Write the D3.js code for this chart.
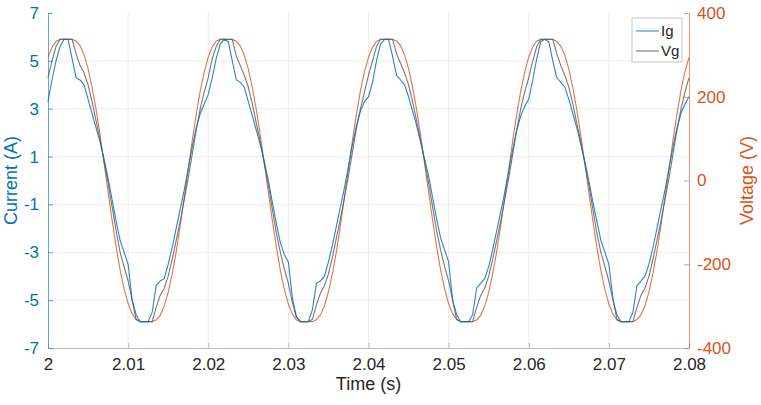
<!DOCTYPE html>
<html><head><meta charset="utf-8">
<script src="https://cdn.jsdelivr.net/npm/d3@7"></script>
<style>body{margin:0;background:#fff}svg{display:block}text{font-family:"Liberation Sans",Arial,sans-serif}</style>
</head><body><svg id="c" width="761" height="405"></svg>
<script>
// sample times: t = tStart + i*tStep
const tStart = 2.0, tStep = 0.0005;
const xTicks = [2, 2.01, 2.02, 2.03, 2.04, 2.05, 2.06, 2.07, 2.08];
const xTickLabels = ["2","2.01","2.02","2.03","2.04","2.05","2.06","2.07","2.08"];
const currentTicks = [-7,-5,-3,-1,1,3,5,7];
const voltageTicks = [-400,-200,0,200,400];
const seriesNames = ["Ig","Vg"];

// Ig (A)
const ig = [
 3.3,4.2,5.0,5.6,5.9,5.9,5.1,4.3,4.2,4.0, 3.4,2.8,2.2,1.6,0.9,0.1,-0.8,-1.7,-2.5,-3.0,
 -3.5,-5.0,-5.8,-5.9,-5.9,-5.9,-5.5,-4.4,-4.2,-4.1, -3.5,-2.8,-2.0,-1.2,-0.4,0.5,1.4,2.2,2.8,3.2,
 3.6,4.3,5.1,5.7,5.9,5.8,5.0,4.2,4.1,3.9, 3.3,2.7,2.1,1.5,0.8,0.0,-0.9,-1.8,-2.6,-3.1,
 -3.4,-4.9,-5.7,-5.9,-5.9,-5.9,-5.4,-4.3,-4.2,-4.0, -3.4,-2.7,-1.9,-1.1,-0.3,0.6,1.5,2.3,2.9,3.3,
 3.5,4.1,5.0,5.7,5.9,5.9,5.2,4.4,4.2,4.0, 3.5,2.9,2.3,1.6,0.9,0.2,-0.7,-1.6,-2.4,-2.9,
 -3.4,-5.0,-5.8,-5.9,-5.9,-5.9,-5.6,-4.5,-4.3,-4.1, -3.6,-2.9,-2.1,-1.3,-0.5,0.4,1.3,2.1,2.7,3.1,
 3.4,4.2,5.1,5.8,5.9,5.8,5.0,4.3,4.1,3.9, 3.4,2.8,2.2,1.5,0.8,0.0,-0.9,-1.7,-2.5,-3.0,
 -3.5,-4.9,-5.8,-5.9,-5.9,-5.9,-5.5,-4.4,-4.2,-4.0, -3.5,-2.8,-2.0,-1.2,-0.4,0.5,1.4,2.2,2.8,3.2,
 3.5
];
// Vg trace (A scale, dark gray)
const vgTrace = [
 4.3,5.0,5.6,5.9,5.9,5.9,5.9,5.3,4.8,4.5, 4.0,3.3,2.5,1.7,0.8,-0.1,-1.1,-2.1,-3.0,-3.6,
 -4.2,-5.0,-5.6,-5.9,-5.9,-5.9,-5.9,-5.3,-4.8,-4.5, -4.0,-3.3,-2.5,-1.7,-0.8,0.1,1.1,2.1,3.0,3.7,
 4.3,5.1,5.6,5.9,5.9,5.9,5.9,5.2,4.8,4.4, 3.9,3.2,2.4,1.6,0.7,-0.2,-1.2,-2.2,-3.0,-3.7,
 -4.3,-5.1,-5.7,-5.9,-5.9,-5.9,-5.8,-5.2,-4.7,-4.4, -3.9,-3.2,-2.4,-1.6,-0.7,0.2,1.2,2.2,3.0,3.7,
 4.4,5.0,5.6,5.9,5.9,5.9,5.9,5.3,4.9,4.5, 4.0,3.3,2.5,1.7,0.8,-0.1,-1.1,-2.1,-2.9,-3.6,
 -4.2,-5.0,-5.6,-5.9,-5.9,-5.9,-5.9,-5.3,-4.8,-4.5, -4.0,-3.3,-2.5,-1.7,-0.8,0.1,1.1,2.1,3.0,3.7,
 4.3,5.0,5.6,5.9,5.9,5.9,5.9,5.3,4.8,4.4, 3.9,3.2,2.4,1.6,0.7,-0.2,-1.2,-2.2,-3.0,-3.6,
 -4.2,-5.0,-5.6,-5.9,-5.9,-5.9,-5.9,-5.3,-4.8,-4.5, -4.0,-3.3,-2.5,-1.7,-0.8,0.1,1.1,2.1,3.0,3.7,
 4.3
];
// Voltage (V), right axis
const voltage = [
 294,318,332,337,337,337,337,333,322,300, 267,223,170,108,41,-27,-95,-158,-214,-259,
 -294,-318,-332,-337,-337,-337,-337,-333,-322,-300, -267,-223,-170,-108,-41,27,95,158,214,259,
 295,319,333,337,337,337,337,332,321,299, 266,222,169,107,40,-28,-96,-159,-215,-260,
 -295,-319,-333,-337,-337,-337,-337,-332,-321,-299, -266,-222,-169,-107,-40,28,96,159,215,260,
 294,318,332,337,337,337,337,333,322,300, 267,223,170,108,41,-27,-95,-158,-214,-259,
 -294,-318,-332,-337,-337,-337,-337,-333,-322,-300, -267,-223,-170,-108,-41,27,95,158,214,259,
 295,319,333,337,337,337,337,332,321,299, 266,222,169,107,40,-28,-96,-159,-215,-260,
 -295,-319,-333,-337,-337,-337,-337,-332,-321,-299, -266,-222,-169,-107,-40,28,96,159,215,260,
 294
];

const W = 761, H = 405;
const m = {l:48, r:72, t:13, b:57};
const iw = W - m.l - m.r, ih = H - m.t - m.b;
const blue = "#0072BD", orange = "#D95319", dark = "#262626";

const svg = d3.select("#c");
const g = svg.append("g").attr("transform", `translate(${m.l},${m.t})`);

const x = d3.scaleLinear().domain([2, 2.08]).range([0, iw]);
const yL = d3.scaleLinear().domain([-7, 7]).range([ih, 0]);
const yR = d3.scaleLinear().domain([-400, 400]).range([ih, 0]);
const tOf = i => tStart + i * tStep;

// grid
g.append("g").selectAll("line").data(xTicks.slice(1, -1)).join("line")
  .attr("x1", d => x(d)).attr("x2", d => x(d)).attr("y1", 0).attr("y2", ih)
  .attr("stroke", "#ececec").attr("stroke-width", 1);
g.append("g").selectAll("line").data(currentTicks.slice(1, -1)).join("line")
  .attr("x1", 0).attr("x2", iw).attr("y1", d => yL(d)).attr("y2", d => yL(d))
  .attr("stroke", "#ececec").attr("stroke-width", 1);

// lines
const lineL = d3.line().x((d, i) => x(tOf(i))).y(d => yL(d));
const lineR = d3.line().x((d, i) => x(tOf(i))).y(d => yR(d));
g.append("path").datum(voltage).attr("d", lineR).attr("fill", "none")
  .attr("stroke", orange).attr("stroke-width", 1.1).attr("stroke-opacity", 0.8);
g.append("path").datum(vgTrace).attr("d", lineL).attr("fill", "none")
  .attr("stroke", "#555").attr("stroke-width", 1.1).attr("stroke-opacity", 0.8);
g.append("path").datum(ig).attr("d", lineL).attr("fill", "none")
  .attr("stroke", blue).attr("stroke-width", 1.1).attr("stroke-opacity", 0.85);

// axes
const fs = "17px";
const fmt = d => String(d);
const xAxis = d3.axisBottom(x).tickValues(xTicks).tickFormat((d, i) => xTickLabels[i]).tickSizeInner(-5).tickSizeOuter(0).tickPadding(10);
const gx = g.append("g").attr("transform", `translate(0,${ih})`).call(xAxis);
gx.select(".domain").attr("stroke", "#bdbdbd");
gx.selectAll(".tick line").attr("stroke", "#bdbdbd");
gx.selectAll("text").attr("fill", dark).style("font-size", fs);

const yAxisL = d3.axisLeft(yL).tickValues(currentTicks).tickFormat(fmt).tickSizeInner(-5).tickSizeOuter(0).tickPadding(9);
const gyl = g.append("g").call(yAxisL);
gyl.select(".domain").attr("stroke", blue).attr("stroke-opacity", 0.6);
gyl.selectAll(".tick line").attr("stroke", blue).attr("stroke-opacity", 0.6);
gyl.selectAll("text").attr("fill", blue).style("font-size", fs);

const yAxisR = d3.axisRight(yR).tickValues(voltageTicks).tickFormat(fmt).tickSizeInner(-5).tickSizeOuter(0).tickPadding(8);
const gyr = g.append("g").attr("transform", `translate(${iw},0)`).call(yAxisR);
gyr.select(".domain").attr("stroke", orange).attr("stroke-opacity", 0.6);
gyr.selectAll(".tick line").attr("stroke", orange).attr("stroke-opacity", 0.6);
gyr.selectAll("text").attr("fill", orange).style("font-size", fs);

// axis titles
svg.append("text").attr("x", m.l + iw / 2).attr("y", 390).attr("text-anchor", "middle")
  .attr("fill", dark).style("font-size", "18px").text("Time (s)");
svg.append("text").attr("transform", `translate(17,${m.t + ih / 2}) rotate(-90)`).attr("text-anchor", "middle")
  .attr("fill", blue).style("font-size", "18px").text("Current (A)");
svg.append("text").attr("transform", `translate(753,${m.t + ih / 2}) rotate(-90)`).attr("text-anchor", "middle")
  .attr("fill", orange).style("font-size", "18px").text("Voltage (V)");

// legend
const lg = svg.append("g").attr("transform", "translate(632,18)");
lg.append("rect").attr("width", 50).attr("height", 44).attr("fill", "#fff").attr("stroke", "#c8c8c8");
const legColors = [blue, "#555"];
seriesNames.forEach((n, i) => {
  const yy = 13 + i * 20;
  lg.append("line").attr("x1", 4).attr("x2", 27).attr("y1", yy).attr("y2", yy)
    .attr("stroke", legColors[i]).attr("stroke-width", 1.1).attr("stroke-opacity", 0.8);
  lg.append("text").attr("x", 29).attr("y", yy + 5).attr("fill", dark).style("font-size", "15px").text(n);
});
</script></body></html>
